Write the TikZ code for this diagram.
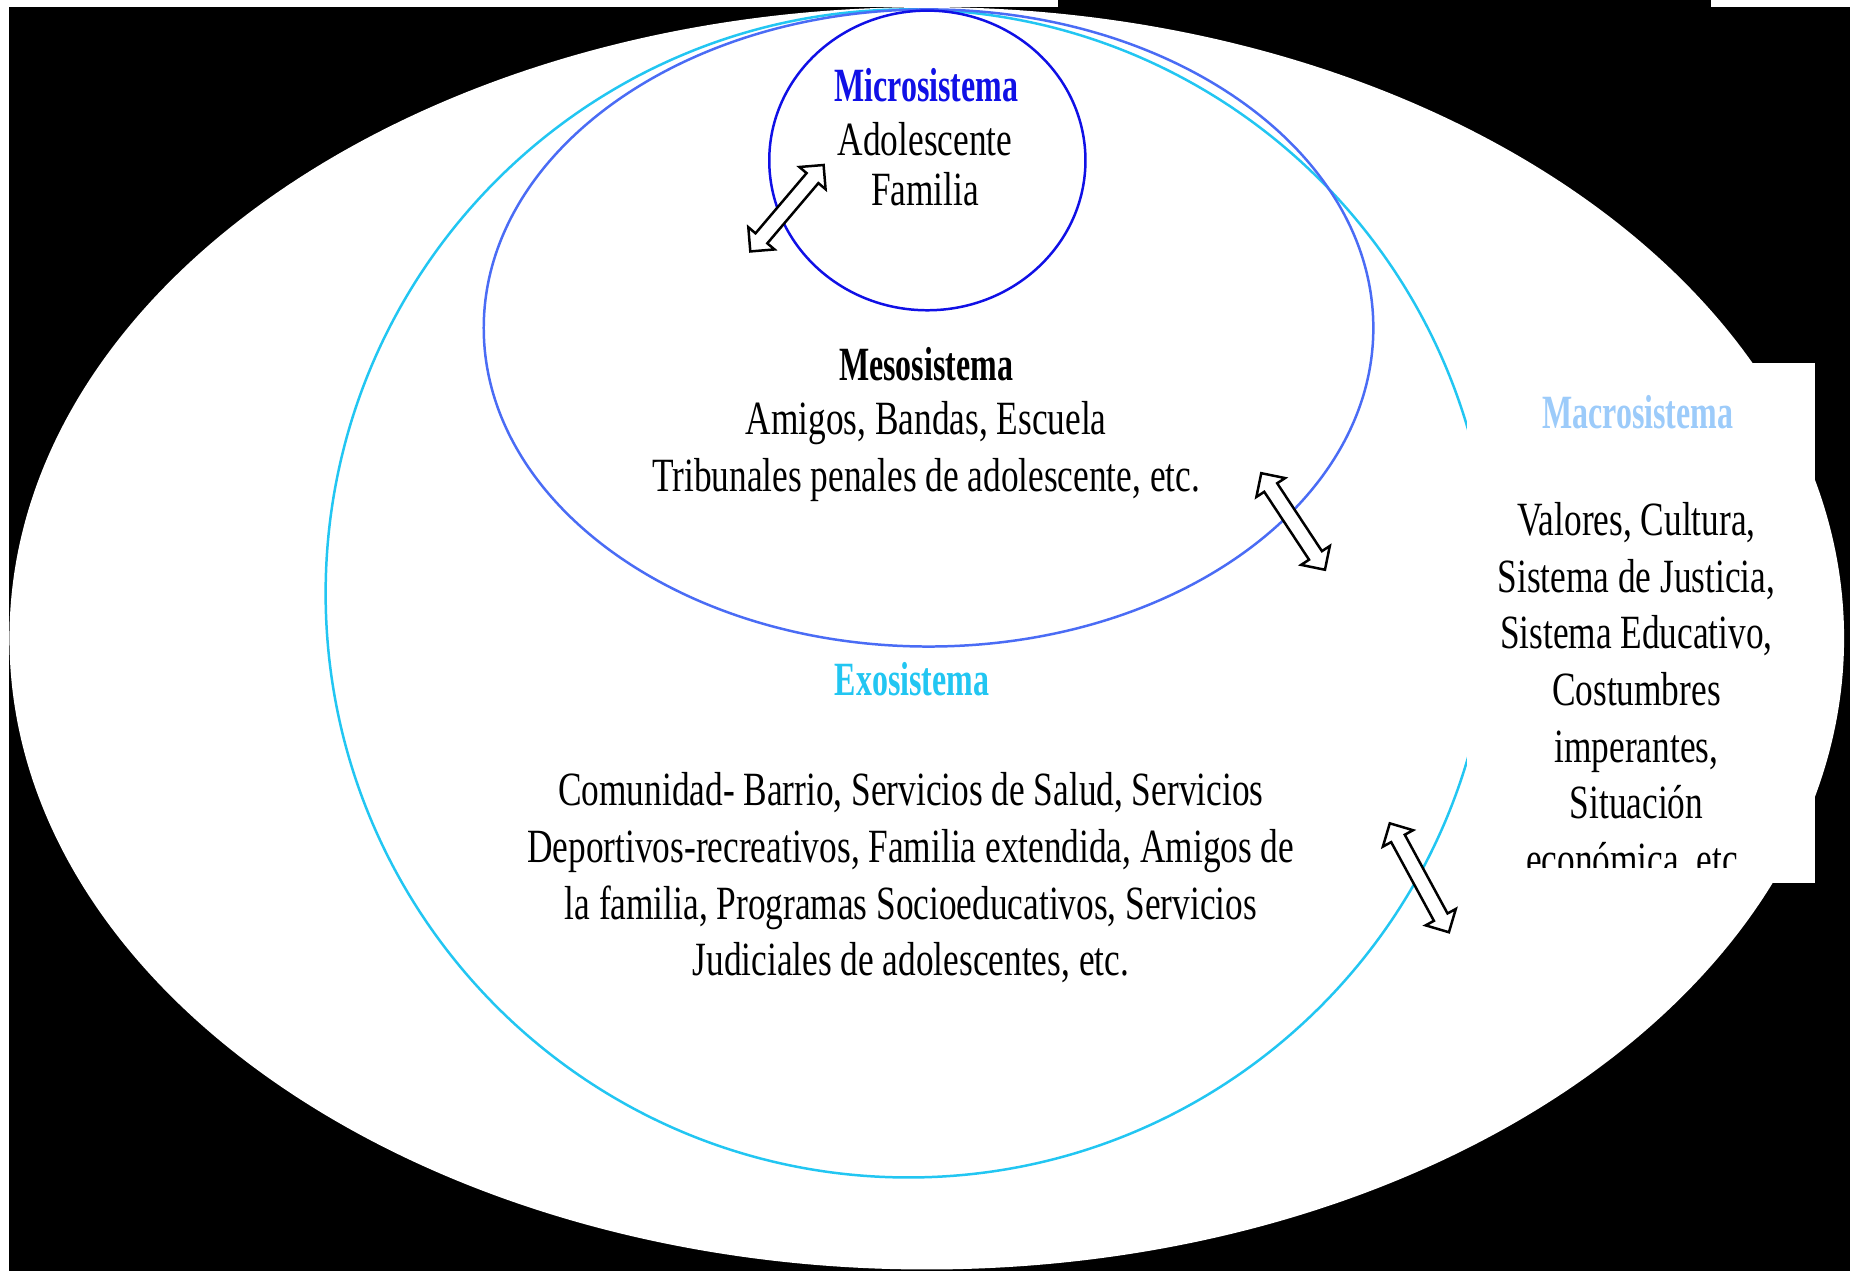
\documentclass[tikz,border=0pt]{standalone}
\usepackage{fontspec}
\setmainfont{Liberation Serif}[FakeStretch=0.74]
\newfontfamily\ttlfont{Liberation Serif}[FakeStretch=0.67]
\usetikzlibrary{shapes.arrows}
\definecolor{microblue}{HTML}{1010E6}
\definecolor{mesoblue}{HTML}{4A6CF5}
\definecolor{exocyan}{HTML}{22C6F2}
\definecolor{macroblue}{HTML}{9CCBFA}
\tikzset{
  txt/.style={font=\fontsize{11.5pt}{13.66pt}\selectfont, align=center, inner sep=0pt},
  ttl/.style={font=\fontsize{11.5pt}{13.66pt}\ttlfont\bfseries, inner sep=0pt},
  ring/.style={line width=0.6pt},
  dblarrow/.style={double arrow, draw=black, fill=white, line width=0.6pt,
    inner sep=0pt, text height=0.055cm, text depth=0.055cm,
    minimum width=0.27cm, double arrow head extend=0.08cm}
}
\begin{document}
\begin{tikzpicture}[x=0.01cm,y=-0.01cm]
\useasboundingbox (0,0) rectangle (1568,1077);
% background
\fill[black] (0,0) rectangle (1568,1077);
\fill[white] (0,0) rectangle (1568,6);
\fill[white] (0,0) rectangle (8,1077);
\fill[black] (897,0) rectangle (1450,11);
% macro system (white ellipse)
\fill[white] (785.5,541) ellipse [x radius=777.5, y radius=535];
% exo system
\draw[ring, exocyan] (770,503) ellipse [x radius=494, y radius=495];
% meso system
\draw[ring, mesoblue] (787,278) ellipse [x radius=377, y radius=270];
% micro system
\draw[ring, microblue] (786,136) ellipse [x radius=134, y radius=127];
% macro text box
\fill[white] (1243,308) rectangle (1538,748);

% texts
\node[ttl, text=microblue] (microT) at (785,72) {Microsistema};
\node[txt] (microB) at (784,139) {Adolescente\\[-1.6pt]Familia};
\node[ttl] (mesoT) at (785,309) {Mesosistema};
\node[txt] (mesoB) at (785,383) {Amigos, Bandas, Escuela\\Tribunales penales de adolescente, etc.};
\node[ttl, text=exocyan] (exoT) at (773,576) {Exosistema};
\node[txt] (exoB) at (772,744) {Comunidad- Barrio, Servicios de Salud, Servicios\\Deportivos-recreativos, Familia extendida, Amigos de\\la familia, Programas Socioeducativos, Servicios\\Judiciales de adolescentes, etc.};
\node[ttl, text=macroblue] (macroT) at (1388,349) {Macrosistema};
\begin{scope}
\clip (1243,308) rectangle (1538,735);
\node[txt] (macroB) at (1387,587) {Valores, Cultura,\\Sistema de Justicia,\\Sistema Educativo,\\Costumbres\\imperantes,\\Situación\\económica, etc.};
\end{scope}

% arrows
\node[dblarrow, minimum height=0.96cm, rotate=49.7] (arrowA) at (667,176.5) {};
\node[dblarrow, minimum height=0.98cm, rotate=-56.6] (arrowB) at (1096,442) {};
\node[dblarrow, minimum height=1.05cm, rotate=-61.5] (arrowC) at (1203,744) {};
\end{tikzpicture}
\end{document}
